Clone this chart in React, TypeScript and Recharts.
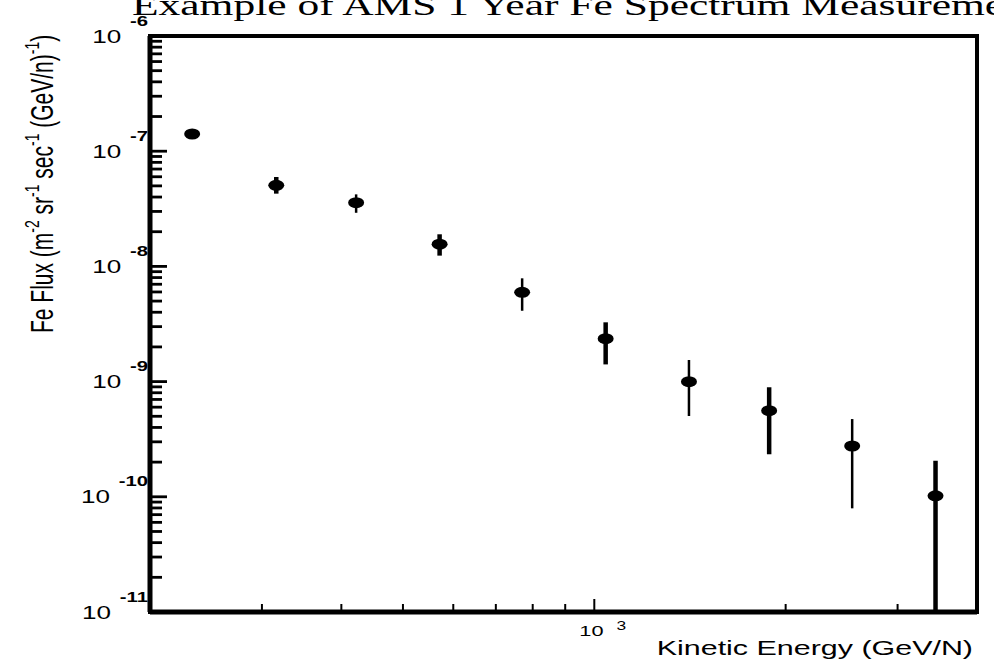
import { ScatterChart, Scatter, XAxis, YAxis, ErrorBar, ReferenceArea } from "recharts";

// kinetic energy (GeV/N) and Fe flux with lower / upper error bounds
const energy = [233, 316, 422, 571, 770, 1042, 1409, 1884, 2545, 3442];
const flux = [1.41e-7, 5.06e-8, 3.57e-8, 1.56e-8, 5.96e-9, 2.36e-9, 9.98e-10, 5.59e-10, 2.76e-10, 1.02e-10];
const fluxLow = [1.3e-7, 4.28e-8, 2.92e-8, 1.24e-8, 4.12e-9, 1.41e-9, 5.03e-10, 2.34e-10, 7.94e-11, 1.0e-11];
const fluxHigh = [1.52e-7, 5.97e-8, 4.22e-8, 1.9e-8, 7.88e-9, 3.27e-9, 1.54e-9, 8.93e-10, 4.73e-10, 2.06e-10];

const xTicks = [300, 400, 500, 600, 700, 800, 900, 1000, 2000, 3000];
const xLabelled = [1000];
const yDecades = [-11, -10, -9, -8, -7, -6];
const yMinorSteps = [2, 3, 4, 5, 6, 7, 8, 9];

// styling
const STRETCH = 1.45;
const thickBars = [1, 3, 5, 7, 9];
const SANS = "'Liberation Sans', Arial, sans-serif";
const PLOT = { left: 150, top: 36, right: 977, bottom: 612 };

const yTicks: number[] = [];
yDecades.forEach((d, i) => {
  yTicks.push(Math.pow(10, d));
  if (i < yDecades.length - 1) yMinorSteps.forEach((k) => yTicks.push(k * Math.pow(10, d)));
});

const points = energy.map((e, i) => ({
  x: e,
  y: flux[i],
  err: [flux[i] - fluxLow[i], fluxHigh[i] - flux[i]],
}));
const thickPts = points.filter((_, i) => thickBars.includes(i));
const thinPts = points.filter((_, i) => !thickBars.includes(i));

function Dot(props: any) {
  const { cx, cy } = props;
  return <ellipse cx={cx} cy={cy} rx={8} ry={5.5} fill="#000" />;
}

function YTick(props: any) {
  const { y, payload } = props;
  const x = PLOT.left;
  const lg = Math.log10(payload.value);
  const exp = Math.round(lg);
  const major = Math.abs(lg - exp) < 1e-6;
  return (
    <g>
      <line x1={x} x2={x + (major ? 17 : 12)} y1={y} y2={y} stroke="#000" strokeWidth={2.8} />
      {major && (
        <g transform={`translate(${x - 2},${y + 6.5}) scale(${STRETCH},1)`}>
          <text textAnchor="end" fontFamily={SANS} fontSize={18} fill="#000">
            10
            <tspan dx={6} dy={-17} fontSize={14} fontWeight="bold">
              {exp}
            </tspan>
          </text>
        </g>
      )}
    </g>
  );
}

function XTick(props: any) {
  const { x, payload } = props;
  const y = PLOT.bottom;
  const labelled = xLabelled.includes(payload.value);
  const exp = Math.round(Math.log10(payload.value));
  return (
    <g>
      <line x1={x} x2={x} y1={y} y2={y - (labelled ? 13 : 8)} stroke="#000" strokeWidth={2} />
      {labelled && (
        <g transform={`translate(${x - 15},${y + 24}) scale(${STRETCH},1)`}>
          <text textAnchor="start" fontFamily={SANS} fontSize={15} fill="#000">
            10
            <tspan dx={9} dy={-6} fontSize={12}>
              {exp}
            </tspan>
          </text>
        </g>
      )}
    </g>
  );
}

export default function App() {
  return (
    <div style={{ position: "absolute", left: 0, top: 0, width: 994, height: 664, background: "#fff" }}>
      <ScatterChart
        width={994}
        height={664}
        margin={{ top: PLOT.top, right: 994 - PLOT.right, bottom: 664 - PLOT.bottom - 20, left: PLOT.left - 20 }}
      >
        <XAxis
          dataKey="x"
          type="number"
          scale="log"
          domain={[200, 4000]}
          allowDataOverflow
          ticks={xTicks}
          interval={0}
          tick={<XTick />}
          tickLine={false}
          height={20}
          axisLine={{ stroke: "#000", strokeWidth: 5 }}
        />
        <YAxis
          dataKey="y"
          type="number"
          scale="log"
          domain={[1e-11, 1e-6]}
          allowDataOverflow
          ticks={yTicks}
          interval={0}
          tick={<YTick />}
          tickLine={false}
          width={20}
          axisLine={{ stroke: "#000", strokeWidth: 5 }}
        />
        <ReferenceArea
          x1={200}
          x2={4000}
          y1={1e-11}
          y2={1e-6}
          ifOverflow="visible"
          fill="none"
          fillOpacity={0}
          stroke="#000"
          strokeWidth={4}
        />
        <Scatter data={thinPts} shape={<Dot />} isAnimationActive={false}>
          <ErrorBar dataKey="err" direction="y" width={0} stroke="#000" strokeWidth={2.5} isAnimationActive={false} />
        </Scatter>
        <Scatter data={thickPts} shape={<Dot />} isAnimationActive={false}>
          <ErrorBar dataKey="err" direction="y" width={0} stroke="#000" strokeWidth={4.5} isAnimationActive={false} />
        </Scatter>
      </ScatterChart>
      <svg width={994} height={664} style={{ position: "absolute", left: 0, top: 0, pointerEvents: "none" }}>
        <g transform={`translate(132,15) scale(${STRETCH},1)`}>
          <text fontFamily="'Liberation Serif', 'Times New Roman', serif" fontSize={30} fill="#000">
            Example of AMS 1 Year Fe Spectrum Measurement
          </text>
        </g>
        <g transform={`translate(973,655) scale(${STRETCH},1)`}>
          <text textAnchor="end" fontFamily={SANS} fontSize={21} fill="#000">
            Kinetic Energy (GeV/N)
          </text>
        </g>
        <g transform={`translate(53,333) scale(${STRETCH},1) rotate(-90)`}>
          <text fontFamily={SANS} fontSize={21} fill="#000">
            Fe Flux (m
            <tspan dy={-10} fontSize={14}>-2</tspan>
            <tspan dy={10}> sr</tspan>
            <tspan dy={-10} fontSize={14}>-1</tspan>
            <tspan dy={10}> sec</tspan>
            <tspan dy={-10} fontSize={14}>-1</tspan>
            <tspan dy={10}> (GeV/n)</tspan>
            <tspan dy={-10} fontSize={14}>-1</tspan>
            <tspan dy={10}>)</tspan>
          </text>
        </g>
      </svg>
    </div>
  );
}
